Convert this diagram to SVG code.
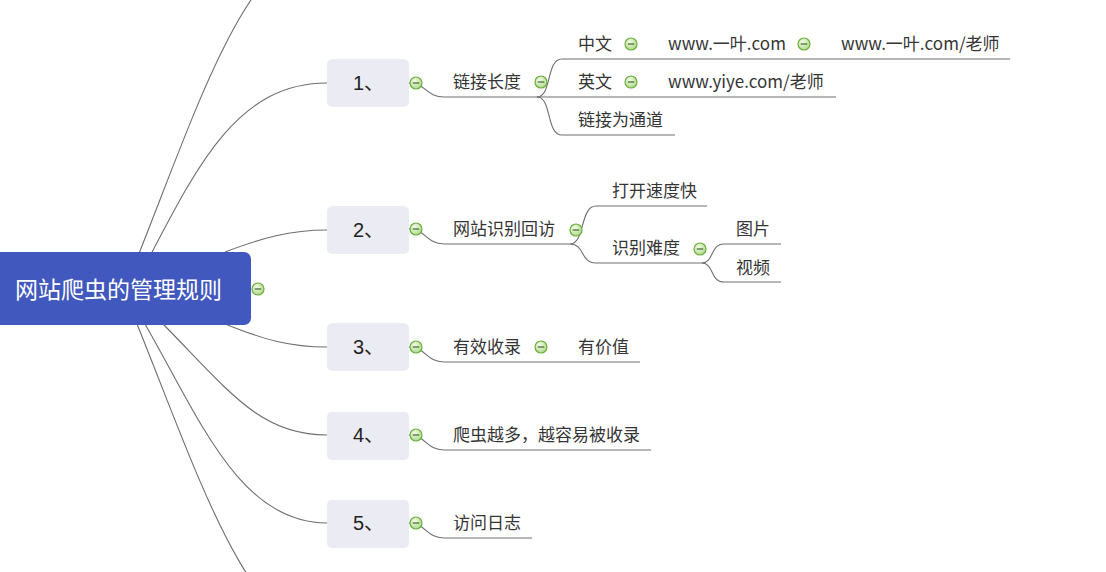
<svg xmlns="http://www.w3.org/2000/svg" width="1106" height="572" viewBox="0 0 1106 572">
<defs>
<radialGradient id="ig" cx="0.4" cy="0.35" r="0.7">
<stop offset="0" stop-color="#f4fbe9"/>
<stop offset="1" stop-color="#a8d884"/>
</radialGradient>
<g id="icon">
<circle r="6" fill="url(#ig)" stroke="#6cae3c" stroke-width="1.2"/>
<line x1="-3.2" y1="0" x2="3.2" y2="0" stroke="#4d6e35" stroke-width="1.3"/>
</g>
</defs>
<style>
.c{fill:none;stroke:#6e6e6e;stroke-width:1.1}
.t{font-family:"Noto Sans CJK SC","Microsoft YaHei",sans-serif;font-size:17px;fill:#353535}
.n{font-family:"Liberation Sans","Noto Sans CJK SC",sans-serif;font-size:20px;fill:#222}
.box{fill:#ebecf3}
</style>
<rect width="1106" height="572" fill="#ffffff"/>
<g id="connectors">
<path class="c" d="M138,256 C200,100 250,-60 335,-60"/>
<path class="c" d="M150,256 C200,160 240,83 327,83"/>
<path class="c" d="M225,252 C262,238 290,230 327,230"/>
<path class="c" d="M225,324 C265,340 290,347 327,347"/>
<path class="c" d="M163,324 C230,392 260,435 327,435"/>
<path class="c" d="M145,324 C200,420 240,523 327,523"/>
<path class="c" d="M137,324 C200,480 250,640 335,640"/>
<path class="c" d="M409,83 C426,83 426,97 444,97 L537,97"/>
<path class="c" d="M537,97 C552,97 546,59 562,59 L1010,59"/>
<path class="c" d="M537,97 L836,97"/>
<path class="c" d="M537,97 C552,97 546,135 562,135 L675,135"/>
<path class="c" d="M409,229 C426,229 426,244 444,244 L570,244"/>
<path class="c" d="M570,244 C585,244 580,206 596,206 L707,206"/>
<path class="c" d="M570,244 C585,244 580,263 596,263 L702,263"/>
<path class="c" d="M702,263 C714,263 710,244 724,244 L781,244"/>
<path class="c" d="M702,263 C714,263 710,282 724,282 L781,282"/>
<path class="c" d="M409,347 C426,347 426,362 444,362 L640,362"/>
<path class="c" d="M409,435 C426,435 426,450 444,450 L651,450"/>
<path class="c" d="M409,523 C426,523 426,538 444,538 L532,538"/>
</g>
<g id="root">
<rect x="-10" y="252" width="261" height="73" rx="7" fill="#4158be"/>
<text x="15" y="298" font-family="Noto Sans CJK SC, sans-serif" font-size="23" fill="#ffffff">网站爬虫的管理规则</text>
<use href="#icon" x="258" y="289"/>
</g>
<g id="n1">
<rect class="box" x="327" y="59" width="82" height="48" rx="5"/>
<text class="n" x="353" y="90">1、</text>
<use href="#icon" x="416" y="83"/>
</g>
<g id="n1a">
<text class="t" x="453" y="88">链接长度</text>
<use href="#icon" x="541" y="82"/>
</g>
<g id="n1a1">
<text class="t" x="578" y="50">中文</text>
<use href="#icon" x="631" y="44"/>
<text class="t" x="668" y="50">www.一叶.com</text>
<use href="#icon" x="804" y="44"/>
<text class="t" x="841" y="50">www.一叶.com/老师</text>
</g>
<g id="n1a2">
<text class="t" x="578" y="88">英文</text>
<use href="#icon" x="631" y="82"/>
<text class="t" x="668" y="88">www.yiye.com/老师</text>
</g>
<g id="n1a3">
<text class="t" x="578" y="126">链接为通道</text>
</g>
<g id="n2">
<rect class="box" x="327" y="206" width="82" height="48" rx="5"/>
<text class="n" x="353" y="237">2、</text>
<use href="#icon" x="416" y="229"/>
</g>
<g id="n2a">
<text class="t" x="453" y="235">网站识别回访</text>
<use href="#icon" x="576" y="230"/>
</g>
<g id="n2a1"><text class="t" x="612" y="197">打开速度快</text></g>
<g id="n2a2">
<text class="t" x="612" y="254">识别难度</text>
<use href="#icon" x="700" y="249"/>
</g>
<g id="n2a2a"><text class="t" x="736" y="235">图片</text></g>
<g id="n2a2b"><text class="t" x="736" y="274">视频</text></g>
<g id="n3">
<rect class="box" x="327" y="323" width="82" height="48" rx="5"/>
<text class="n" x="353" y="354">3、</text>
<use href="#icon" x="416" y="347"/>
</g>
<g id="n3a">
<text class="t" x="453" y="353">有效收录</text>
<use href="#icon" x="541" y="347"/>
<text class="t" x="578" y="353">有价值</text>
</g>
<g id="n4">
<rect class="box" x="327" y="412" width="82" height="48" rx="5"/>
<text class="n" x="353" y="442">4、</text>
<use href="#icon" x="416" y="435"/>
</g>
<g id="n4a"><text class="t" x="453" y="441">爬虫越多，越容易被收录</text></g>
<g id="n5">
<rect class="box" x="327" y="500" width="82" height="48" rx="5"/>
<text class="n" x="353" y="530">5、</text>
<use href="#icon" x="416" y="523"/>
</g>
<g id="n5a"><text class="t" x="453" y="529">访问日志</text></g>
</svg>
